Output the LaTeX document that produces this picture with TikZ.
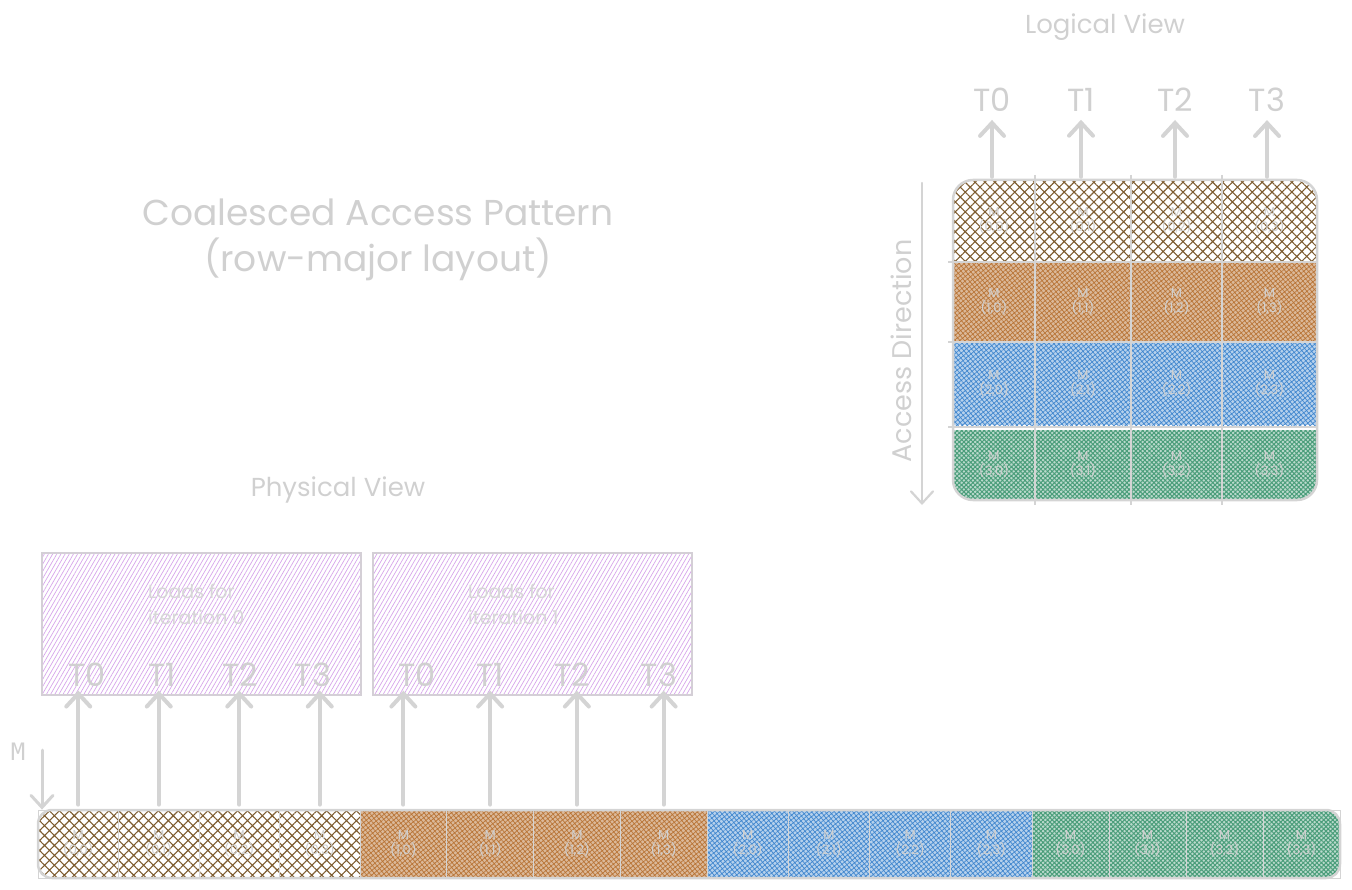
\documentclass[tikz,border=0pt]{standalone}
\usepackage{fontspec}
\setmainfont{Poppins}
\setmonofont{DejaVu Sans Mono}
\usetikzlibrary{patterns.meta,arrows.meta}
\definecolor{tg}{RGB}{208,208,208}
\definecolor{lg}{RGB}{212,212,212}
\definecolor{cbrown}{RGB}{125,92,48}
\definecolor{corange}{RGB}{184,116,54}
\definecolor{cblue}{RGB}{64,134,206}
\definecolor{cgreen}{RGB}{42,140,98}
\definecolor{cpurple}{RGB}{214,165,234}
\tikzset{
  fs/.style={font=\fontsize{#1}{#1}\selectfont},
  lbl/.style={text=tg, inner sep=0pt, fs=32},
  ttl/.style={text=tg, inner sep=0pt, fs=26},
  ctext/.style={text=tg, align=center, inner sep=0pt, font=\fontsize{13}{15}\selectfont},
  gline/.style={draw=lg, line width=2.5pt},
  arr/.style={draw=lg, line width=4pt, line cap=round, -{Straight Barb[length=13pt,width=24pt,line cap=round]}},
  thinarr/.style={draw=lg, line width=2.2pt, line cap=round, -{Straight Barb[length=12pt,width=22pt,line cap=round]}},
  pbrown/.style={pattern={Hatch[angle=45,distance=7pt,line width=1.1pt]}, pattern color=cbrown},
  porange/.style={preaction={fill=corange!50}, pattern={Hatch[angle=40,distance=3.5pt,line width=0.7pt]}, pattern color=corange},
  pblue/.style={preaction={fill=cblue!38}, pattern={Hatch[angle=40,distance=3.5pt,line width=0.7pt]}, pattern color=cblue},
  pgreen/.style={preaction={fill=cgreen!32}, pattern={Hatch[angle=45,distance=3.2pt,line width=1pt]}, pattern color=cgreen!85},
  ppurple/.style={pattern={Lines[angle=60,distance=3.6pt,line width=0.7pt]}, pattern color=cpurple, draw=lg!90!cpurple, line width=1.2pt},
  loadtxt/.style={text=tg!85!white, align=left, inner sep=0pt, font=\fontsize{19}{26}\selectfont},
}
\begin{document}
\begin{tikzpicture}[x=1pt,y=-1pt]
\useasboundingbox (0,0) rectangle (1352,890);

% ---------- title ----------
\node[text=tg, align=center, inner sep=0pt, font=\fontsize{36}{46}\selectfont] (title) at (378,240) {Coalesced Access Pattern\\(row-major layout)};

% ---------- logical view ----------
\node[ttl] (logt) at (1105,27) {Logical View};
\begin{scope}
  \clip[rounded corners=20pt] (953,180) rectangle (1317,500);
  \path[pbrown] (948,176) rectangle (1322,262);
  \path[porange] (948,262) rectangle (1322,342);
  \path[pblue] (948,342) rectangle (1322,425);
  \path[pgreen] (948,430) rectangle (1322,504);
\end{scope}
\draw[gline, rounded corners=20pt] (953,180) rectangle (1317,500);
\foreach \yy in {262,342,427} \draw[gline] (948,\yy) -- (1318,\yy);
\foreach \xx in {1035,1131,1222} \draw[gline] (\xx,175) -- (\xx,505);

\foreach \r/\cy in {0/221,1/302,2/384,3/465}{
  \foreach \c/\cx/\w in {0/994/82,1/1083/96,2/1176.5/91,3/1269.5/95}{
    \node[ctext, minimum width=\w pt, minimum height=80pt] (l\r\c) at (\cx,\cy) {M\\(\r,\c)};
  }
}
\foreach \c/\cx in {0/992,1/1081,2/1175,3/1267}{
  \node[lbl] (lT\c) at (\cx,100) {T\c};
  \draw[arr, shorten >=8pt, shorten <=4pt] (l0\c.north -| lT\c) -- (lT\c.south);
}

\node[text=tg, inner sep=0pt, fs=27, rotate=90] (accdir) at (901,351) {Access Direction};
\coordinate (accA) at (922,183);
\coordinate (accB) at (922,505);
\draw[thinarr] (accA) -- (accB);

% ---------- physical view ----------
\node[ttl] (phyt) at (338,490) {Physical View};
\node[ppurple, minimum width=319pt, minimum height=142pt, inner sep=0pt] (b0) at (201.5,624) {};
\node[ppurple, minimum width=319pt, minimum height=142pt, inner sep=0pt] (b1) at (532.5,624) {};
\node[loadtxt, anchor=west] (ld0) at (148,604) {Loads for\\iteration 0};
\node[loadtxt, anchor=west] (ld1) at (468,604) {Loads for\\iteration 1};
\foreach \c/\xx in {0/87,1/162,2/240,3/313}{ \node[lbl, fs=32] (p0T\c) at (\xx,675) {T\c}; }
\foreach \c/\xx in {0/417,1/490,2/572,3/659}{ \node[lbl, fs=32] (p1T\c) at (\xx,675) {T\c}; }

% ---------- strip ----------
\begin{scope}
  \clip[rounded corners=14pt] (38,810) rectangle (1340,878);
  \path[pbrown] (36,806) rectangle (360,882);
  \path[porange] (360,806) rectangle (707,882);
  \path[pblue] (707,806) rectangle (1032,882);
  \path[pgreen] (1032,806) rectangle (1344,882);
\end{scope}
\foreach \r/\xo/\w in {0/38/80.5,1/360/86.75,2/707/81.25,3/1032/77}{
  \foreach \c in {0,1,2,3}{
    \pgfmathsetmacro{\cx}{\xo+(\c+0.5)*\w}
    \node[ctext, draw=lg, line width=0.8pt, minimum width=\w pt, minimum height=68pt] (s\r\c) at (\cx,844) {M\\(\r,\c)};
  }
}
\draw[gline, rounded corners=14pt] (38,810) rectangle (1340,878);
\foreach \c in {0,1,2,3}{
  \draw[arr, shorten <=5pt, shorten >=-5pt] (s0\c.north) -- (s0\c.north |- b0.south);
  \draw[arr, shorten <=5pt, shorten >=-5pt] (s1\c.north) -- (s1\c.north |- b1.south);
}

\node[text=tg, inner sep=0pt, font=\ttfamily\fontsize{24}{24}\selectfont] (mlab) at (18,752) {M};
\coordinate (mA) at (42,750);
\draw[thinarr, line width=3pt] (mA) -- (mA |- s00.north);
\end{tikzpicture}
\end{document}
